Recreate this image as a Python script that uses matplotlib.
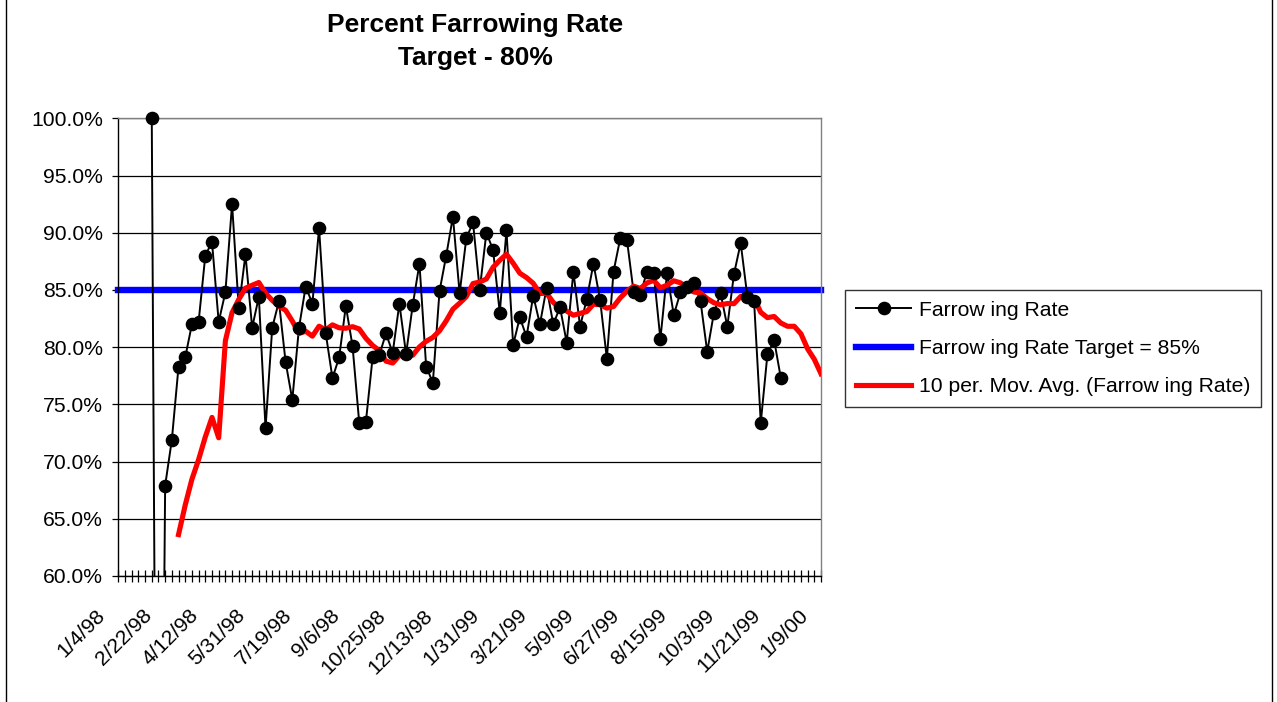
import numpy as np
import matplotlib
matplotlib.use("Agg")
import matplotlib.pyplot as plt
from matplotlib.lines import Line2D
from matplotlib.transforms import ScaledTranslation

plt.rcParams['font.family'] = ['Liberation Sans', 'DejaVu Sans']

# Weekly farrowing rate (%), one entry per week from 1/4/98 to 1/9/00; None = no data
rate = [
    None, None, None, None, None,
    100.0, 0.0, 67.9, 71.9, 78.3, 79.1, 82.0, 82.2, 88.0, 89.2,
    82.2, 84.8, 92.5, 83.4, 88.1, 81.7, 84.4, 72.9, 81.7, 84.0,
    78.7, 75.4, 81.7, 85.3, 83.8, 90.4, 81.2, 77.3, 79.1, 83.6,
    80.1, 73.4, 73.5, 79.1, 79.3, 81.2, 79.5, 83.8, 79.4, 83.7,
    87.3, 78.3, 76.9, 84.9, 88.0, 91.4, 84.7, 89.5, 90.9, 85.0,
    90.0, 88.5, 83.0, 90.2, 80.2, 82.6, 80.9, 84.5, 82.0, 85.2,
    82.0, 83.5, 80.4, 86.6, 81.8, 84.2, 87.3, 84.1, 79.0, 86.6,
    89.5, 89.4, 84.8, 84.6, 86.6, 86.5, 80.7, 86.5, 82.8, 84.8,
    85.3, 85.6, 84.0, 79.6, 83.0, 84.7, 81.8, 86.4, 89.1, 84.4,
    84.0, 73.4, 79.4, 80.6, 77.3,
    None, None, None, None, None, None,
]
target = 85.0
ma_period = 10

week_labels = ["1/4/98", "2/22/98", "4/12/98", "5/31/98", "7/19/98", "9/6/98",
               "10/25/98", "12/13/98", "1/31/99", "3/21/99", "5/9/99", "6/27/99",
               "8/15/99", "10/3/99", "11/21/99", "1/9/00"]
label_step = 7

y_ticks = [60, 65, 70, 75, 80, 85, 90, 95, 100]

# ---------------------------------------------------------------------------
n = len(rate)
x = np.arange(n)
vals = np.array([np.nan if v is None else v for v in rate], dtype=float)

# Trailing moving average over the non-empty weeks in each window
ma = np.full(n, np.nan)
for k in range(ma_period - 1, n):
    w = vals[k - ma_period + 1:k + 1]
    w = w[~np.isnan(w)]
    if len(w):
        ma[k] = w.mean()

W, H, DPI = 1277, 702, 100
fig = plt.figure(figsize=(W / DPI, H / DPI), dpi=DPI)
left, right, top, bottom = 118.3, 821.0, 118.3, 576.0
ax = fig.add_axes([left / W, 1 - bottom / H, (right - left) / W, (bottom - top) / H])

ax.set_xlim(0, n - 1)
ax.set_ylim(60, 100)

# Grid
for t in y_ticks:
    ax.axhline(t, color='black', lw=0.9, zorder=1)

# Target line
ax.plot(x, np.full(n, target), color='#0000FF', lw=4.6, zorder=2,
        solid_capstyle='projecting', clip_on=False)

# Data line (clipped) and markers (only inside the visible range)
ax.plot(x, vals, color='black', lw=1.4, zorder=3)
mvals = np.where((vals >= 60) & (vals <= 100), vals, np.nan)
ax.plot(x, mvals, ls='none', marker='o', ms=8.8, color='black', zorder=4,
        clip_on=False)

# Moving average
ax.plot(x, ma, color='#FF0000', lw=3.7, zorder=3, solid_joinstyle='round')

# Spines
ax.spines['top'].set_color('#808080')
ax.spines['right'].set_color('#808080')
ax.spines['left'].set_color('black')
ax.spines['bottom'].set_color('black')
for s in ax.spines.values():
    s.set_linewidth(1.0)

# Y axis
ax.set_yticks(y_ticks)
ax.set_yticklabels([f"{t:.1f}%" for t in y_ticks])
ax.tick_params(axis='y', direction='out', length=4.5, width=0.9, pad=6.5,
               labelsize=15.2, colors='black')

# X axis: every week a crossing tick, labels every seven weeks
ax.set_xticks(np.arange(0, n, label_step))
ax.set_xticklabels(week_labels)
ax.set_xticks(x, minor=True)
ax.tick_params(axis='x', which='both', direction='inout', length=9, width=0.9,
               colors='black')
ax.tick_params(axis='x', which='major', pad=17, labelsize=15.2)
offset = ScaledTranslation(-23 / DPI, 0, fig.dpi_scale_trans)
for lab in ax.get_xticklabels():
    lab.set_rotation(45)
    lab.set_rotation_mode('anchor')
    lab.set_ha('right')
    lab.set_va('top')
    lab.set_transform(lab.get_transform() + offset)

# Title
fig.text(475 / W, 1 - 25 / H, "Percent Farrowing Rate", ha='center', va='center',
         fontsize=19, fontweight='bold')
fig.text(475 / W, 1 - 58 / H, "Target - 80%", ha='center', va='center',
         fontsize=19, fontweight='bold')

# Legend
handles = [
    Line2D([], [], color='black', lw=1.4, marker='o', ms=8.8),
    Line2D([], [], color='#0000FF', lw=4.6),
    Line2D([], [], color='#FF0000', lw=3.7),
]
labels = ["Farrow ing Rate", "Farrow ing Rate Target = 85%",
          "10 per. Mov. Avg. (Farrow ing Rate)"]
leg = fig.legend(handles, labels, loc='upper left',
                 bbox_to_anchor=(845 / W, 1 - 290 / H), fontsize=15.2,
                 frameon=True, fancybox=False, handlelength=2.65,
                 handletextpad=0.35, borderpad=0.5, labelspacing=0.92,
                 borderaxespad=0)
leg.get_frame().set_edgecolor('black')
leg.get_frame().set_linewidth(1.0)

# Chart border
for xb in (5.5, 1271.5):
    fig.add_artist(Line2D([xb / W, xb / W], [0, 1], color='black', lw=1.0,
                          transform=fig.transFigure))

fig.savefig("out.png", dpi=DPI)
